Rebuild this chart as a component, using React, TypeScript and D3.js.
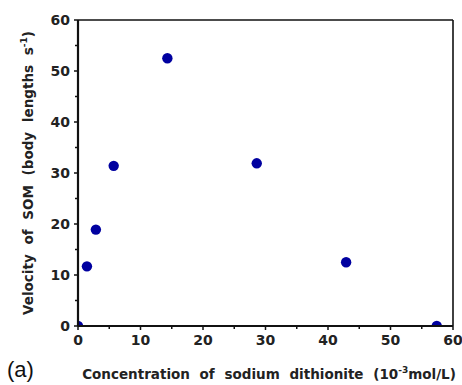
import * as d3 from "d3";

// concentration (10^-3 mol/L) and velocity (body lengths / s)
const concentration = [0, 1.43, 2.86, 5.71, 14.3, 28.6, 42.9, 57.4];
const velocity = [0, 11.7, 18.9, 31.4, 52.5, 31.9, 12.5, 0];
const xTicks = [0, 10, 20, 30, 40, 50, 60];
const yTicks = [0, 10, 20, 30, 40, 50, 60];
const minorTicks = [5, 15, 25, 35, 45, 55];

const W = 462, H = 385;
const margin = { top: 20, right: 9, bottom: 59, left: 78 };

export default function App() {
  const x = d3.scaleLinear().domain([0, 60]).range([margin.left, W - margin.right]);
  const y = d3.scaleLinear().domain([0, 60]).range([H - margin.bottom, margin.top]);
  const x0 = x(0), x1 = x(60), y0 = y(0), y1 = y(60);
  const font = "'DejaVu Sans', Arial, sans-serif";

  return (
    <svg width={W} height={H} style={{ position: "absolute", left: 0, top: 0, background: "#fff" }}>
      <defs>
        <clipPath id="plot">
          <rect x={x0} y={y1} width={x1 - x0} height={y0 - y1} />
        </clipPath>
      </defs>

      {/* points */}
      <g clipPath="url(#plot)">
        {concentration.map((c, i) => (
          <circle key={i} cx={x(c)} cy={y(velocity[i])} r={5.2} fill="#0000a0" />
        ))}
      </g>

      {/* frame */}
      <line x1={x0} x2={x1} y1={y1} y2={y1} stroke="#111" strokeWidth={1.6} />
      <line x1={x1} x2={x1} y1={y1} y2={y0} stroke="#111" strokeWidth={1.6} />
      <line x1={x0} x2={x1} y1={y0} y2={y0} stroke="#111" strokeWidth={2.2} />
      <line x1={x0} x2={x0} y1={y1} y2={y0} stroke="#111" strokeWidth={2.2} />

      {/* x axis */}
      {xTicks.map((t) => (
        <g key={"x" + t}>
          <line x1={x(t)} x2={x(t)} y1={y0} y2={y0 + 4} stroke="#111" strokeWidth={1.5} />
          <text x={x(t)} y={y0 + 19} textAnchor="middle" fontFamily={font} fontWeight="bold" fontSize={14} fill="#222">
            {t}
          </text>
        </g>
      ))}
      {minorTicks.map((t) => (
        <line key={"xm" + t} x1={x(t)} x2={x(t)} y1={y0} y2={y0 + 3} stroke="#111" strokeWidth={1.5} />
      ))}

      {/* y axis */}
      {yTicks.map((t) => (
        <g key={"y" + t}>
          <line x1={x0 - 4} x2={x0} y1={y(t)} y2={y(t)} stroke="#111" strokeWidth={1.5} />
          <text x={x0 - 8} y={y(t) + 5} textAnchor="end" fontFamily={font} fontWeight="bold" fontSize={14} fill="#222">
            {t}
          </text>
        </g>
      ))}
      {minorTicks.map((t) => (
        <line key={"ym" + t} x1={x0 - 3} x2={x0} y1={y(t)} y2={y(t)} stroke="#111" strokeWidth={1.5} />
      ))}

      {/* axis titles */}
      <text x={269} y={379} textAnchor="middle" fontFamily={font} fontWeight="bold" fontSize={13.5} fill="#222" wordSpacing={5}>
        Concentration of sodium dithionite (10<tspan dy={-6} fontSize={9}>-3</tspan>
        <tspan dy={6}>mol/L)</tspan>
      </text>
      <text
        transform={`translate(33, ${(y0 + y1) / 2}) rotate(-90)`}
        textAnchor="middle"
        fontFamily={font}
        fontWeight="bold"
        fontSize={13.5}
        fill="#222"
        wordSpacing={5}
      >
        Velocity of SOM (body lengths s<tspan dy={-6} fontSize={9}>-1</tspan>
        <tspan dy={6}>)</tspan>
      </text>

      <text x={7} y={377} fontFamily="Arial, 'Liberation Sans', sans-serif" fontSize={22} fill="#111">
        (a)
      </text>
    </svg>
  );
}
